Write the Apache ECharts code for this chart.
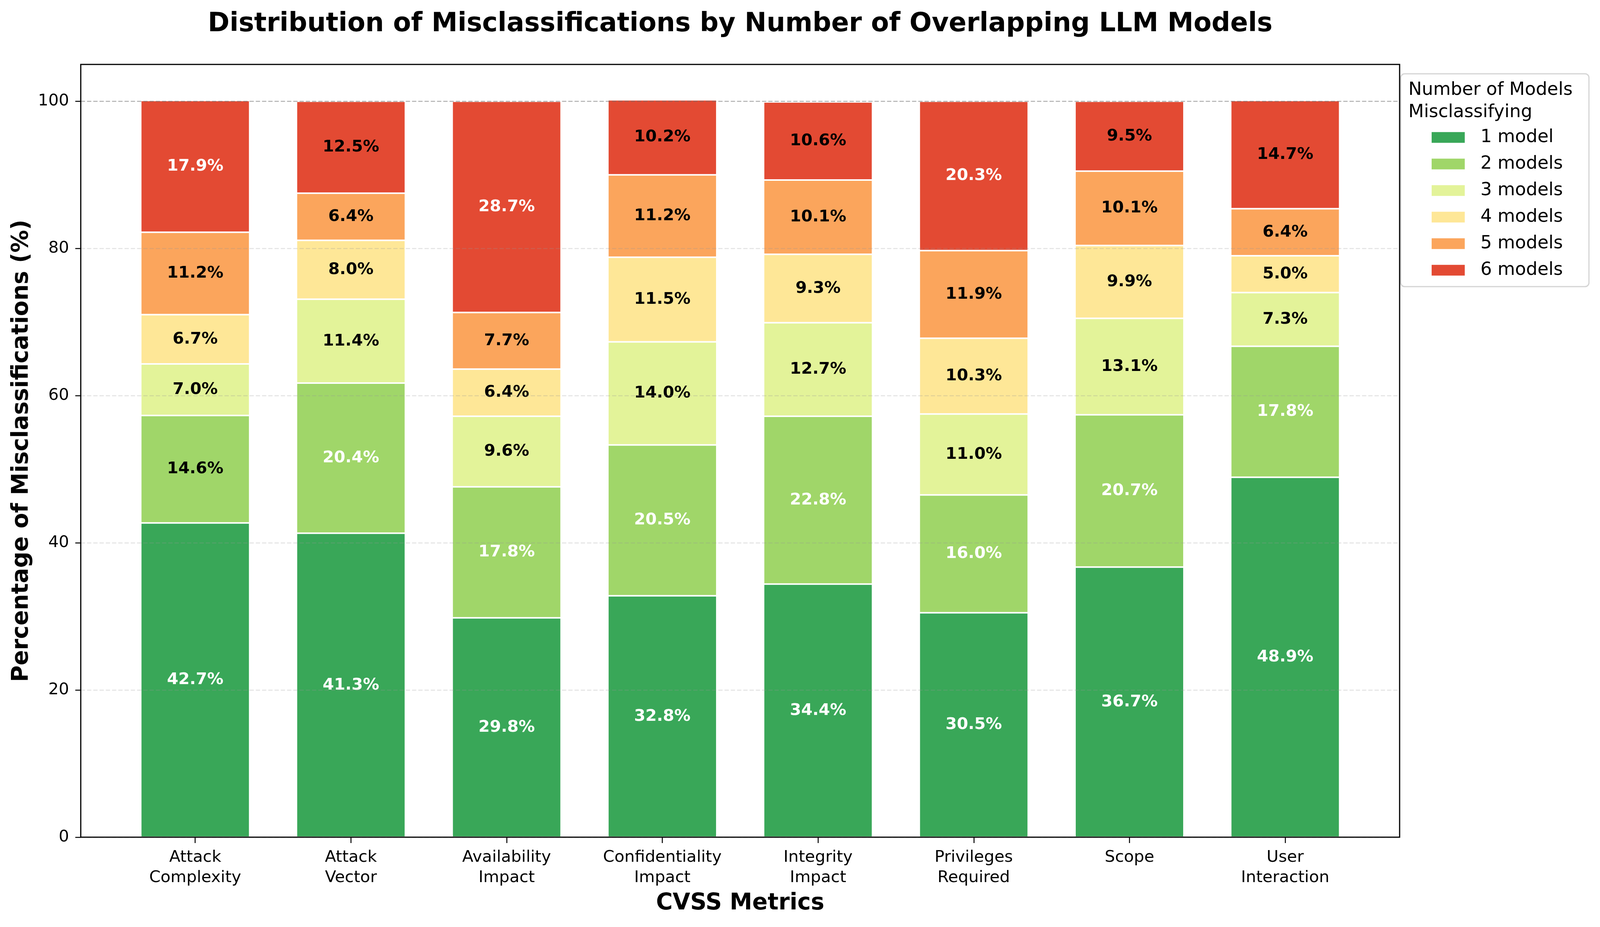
<!DOCTYPE html>
<html><head><meta charset="utf-8">
<script src="https://cdn.jsdelivr.net/npm/echarts@6/dist/echarts.min.js"></script>
<style>html,body{margin:0;padding:0;background:#fff;overflow:hidden}#chart{width:100vw;height:2374px}</style>
</head><body><div id="chart"></div>
<script>
// ---- data ----
const categories = ['Attack Complexity', 'Attack Vector', 'Availability Impact', 'Confidentiality Impact',
                    'Integrity Impact', 'Privileges Required', 'Scope', 'User Interaction'];
const seriesNames = ['1 model', '2 models', '3 models', '4 models', '5 models', '6 models'];
const oneModel    = [42.7, 41.3, 29.8, 32.8, 34.4, 30.5, 36.7, 48.9];
const twoModels   = [14.6, 20.4, 17.8, 20.5, 22.8, 16.0, 20.7, 17.8];
const threeModels = [7.0, 11.4, 9.6, 14.0, 12.7, 11.0, 13.1, 7.3];
const fourModels  = [6.7, 8.0, 6.4, 11.5, 9.3, 10.3, 9.9, 5.0];
const fiveModels  = [11.2, 6.4, 7.7, 11.2, 10.1, 11.9, 10.1, 6.4];
const sixModels   = [17.9, 12.5, 28.7, 10.2, 10.6, 20.3, 9.5, 14.7];
const yTicks = [0, 20, 40, 60, 80, 100];

// ---- style / layout ----
const FONT = 'DejaVu Sans';
const colors = ['#39a758', '#a0d669', '#e3f399', '#fee797', '#fba55c', '#e34a33'];
const el = document.getElementById('chart');
const W = el.clientWidth || 4200, H = 2374;
const sx = W / 4200;
const X = v => v * sx;
const AX_L = X(212), AX_R = X(3674), AX_T = 165, AX_B = 2144;
const step = (AX_R - AX_L) / 8.47;
const barL = AX_L + 0.235 * step, barR = AX_R - 0.235 * step;

const allSeries = [oneModel, twoModels, threeModels, fourModels, fiveModels, sixModels];
const gridColor = 'rgba(150,150,150,0.28)';

const chart = echarts.init(el, null, {renderer: 'canvas', width: W, height: H});
const option = {
  backgroundColor: '#fff',
  animation: false,
  textStyle: {fontFamily: FONT},
  title: {
    text: 'Distribution of Misclassifications by Number of Overlapping LLM Models',
    left: (AX_L + AX_R) / 2, top: 29, textAlign: 'center', padding: 0,
    textStyle: {fontFamily: FONT, fontWeight: 'bold', fontSize: 67, lineHeight: 67, color: '#000'}
  },
  legend: {
    orient: 'vertical', left: X(3756), top: 329, padding: 0,
    itemWidth: X(89), itemHeight: 29.5, itemGap: 22, icon: 'rect', selectedMode: false,
    textStyle: {fontFamily: FONT, fontSize: 46, lineHeight: 46, color: '#000', padding: [0, 0, 0, X(35)]},
    data: seriesNames
  },
  grid: [
    {left: AX_L, right: W - AX_R, top: AX_T, bottom: H - AX_B, show: false},
    {left: barL, right: W - barR, top: AX_T, bottom: H - AX_B, show: false}
  ],
  xAxis: [
    {gridIndex: 0, type: 'value', min: 0, max: 1, show: false},
    {gridIndex: 1, type: 'category', data: categories,
     axisLine: {show: false},
     axisTick: {show: true, alignWithLabel: true, length: 15, lineStyle: {color: '#000', width: 2.5}},
     axisLabel: {fontFamily: FONT, fontSize: 41.7, lineHeight: 52, color: '#000', margin: 26, interval: 0,
                 formatter: s => s.replace(' ', '\n')},
     name: 'CVSS Metrics', nameLocation: 'middle', nameGap: 141,
     nameTextStyle: {fontFamily: FONT, fontWeight: 'bold', fontSize: 58, lineHeight: 58, color: '#000'}}
  ],
  yAxis: [
    {gridIndex: 0, type: 'value', min: 0, max: 105, interval: 20, z: 5,
     axisLine: {show: false},
     axisTick: {show: true, length: 14, lineStyle: {color: '#000', width: 2.5}, customValues: yTicks},
     axisLabel: {fontFamily: FONT, fontSize: 41.7, color: '#000', margin: 30, customValues: yTicks,
                 formatter: v => (v > 100 ? '' : String(v))},
     splitLine: {show: true, lineStyle: {color: [gridColor, gridColor, gridColor, gridColor, gridColor,
                 'rgba(110,110,110,0.55)', 'rgba(0,0,0,0)'], width: 2.5, type: [11, 5]}},
     name: 'Percentage of Misclassifications (%)', nameLocation: 'middle', nameGap: X(125), nameRotate: 90,
     nameTextStyle: {fontFamily: FONT, fontWeight: 'bold', fontSize: 58, lineHeight: 58, color: '#000'}},
    {gridIndex: 1, type: 'value', min: 0, max: 105, show: false}
  ],
  graphic: [
    {type: 'rect', z: 1, shape: {x: X(3677), y: 189, width: X(494), height: 545, r: 10},
     style: {fill: '#fff', stroke: '#d4d4d4', lineWidth: 3}},
    {type: 'text', z: 2, x: X(3697), y: 203,
     style: {text: 'Number of Models\nMisclassifying', fontFamily: FONT, fontSize: 46, lineHeight: 57,
             fill: '#000', align: 'left', verticalAlign: 'top'}},
    {type: 'rect', z: 100, shape: {x: AX_L, y: AX_T, width: AX_R - AX_L, height: AX_B - AX_T},
     style: {fill: null, stroke: '#000', lineWidth: 3}}
  ],
  series: allSeries.map((arr, k) => ({
    name: seriesNames[k], type: 'bar', stack: 'total', xAxisIndex: 1, yAxisIndex: 1, barWidth: '70%',
    itemStyle: {color: colors[k], borderColor: '#fff', borderWidth: 2},
    label: {show: true, position: 'inside', fontFamily: FONT, fontWeight: 'bold', fontSize: 41.7,
            formatter: p => p.value.toFixed(1) + '%'},
    emphasis: {disabled: true},
    data: arr.map(v => ({value: v, label: {color: v > 15 ? '#fff' : '#000'}}))
  }))
};
chart.setOption(option);
</script></body></html>
